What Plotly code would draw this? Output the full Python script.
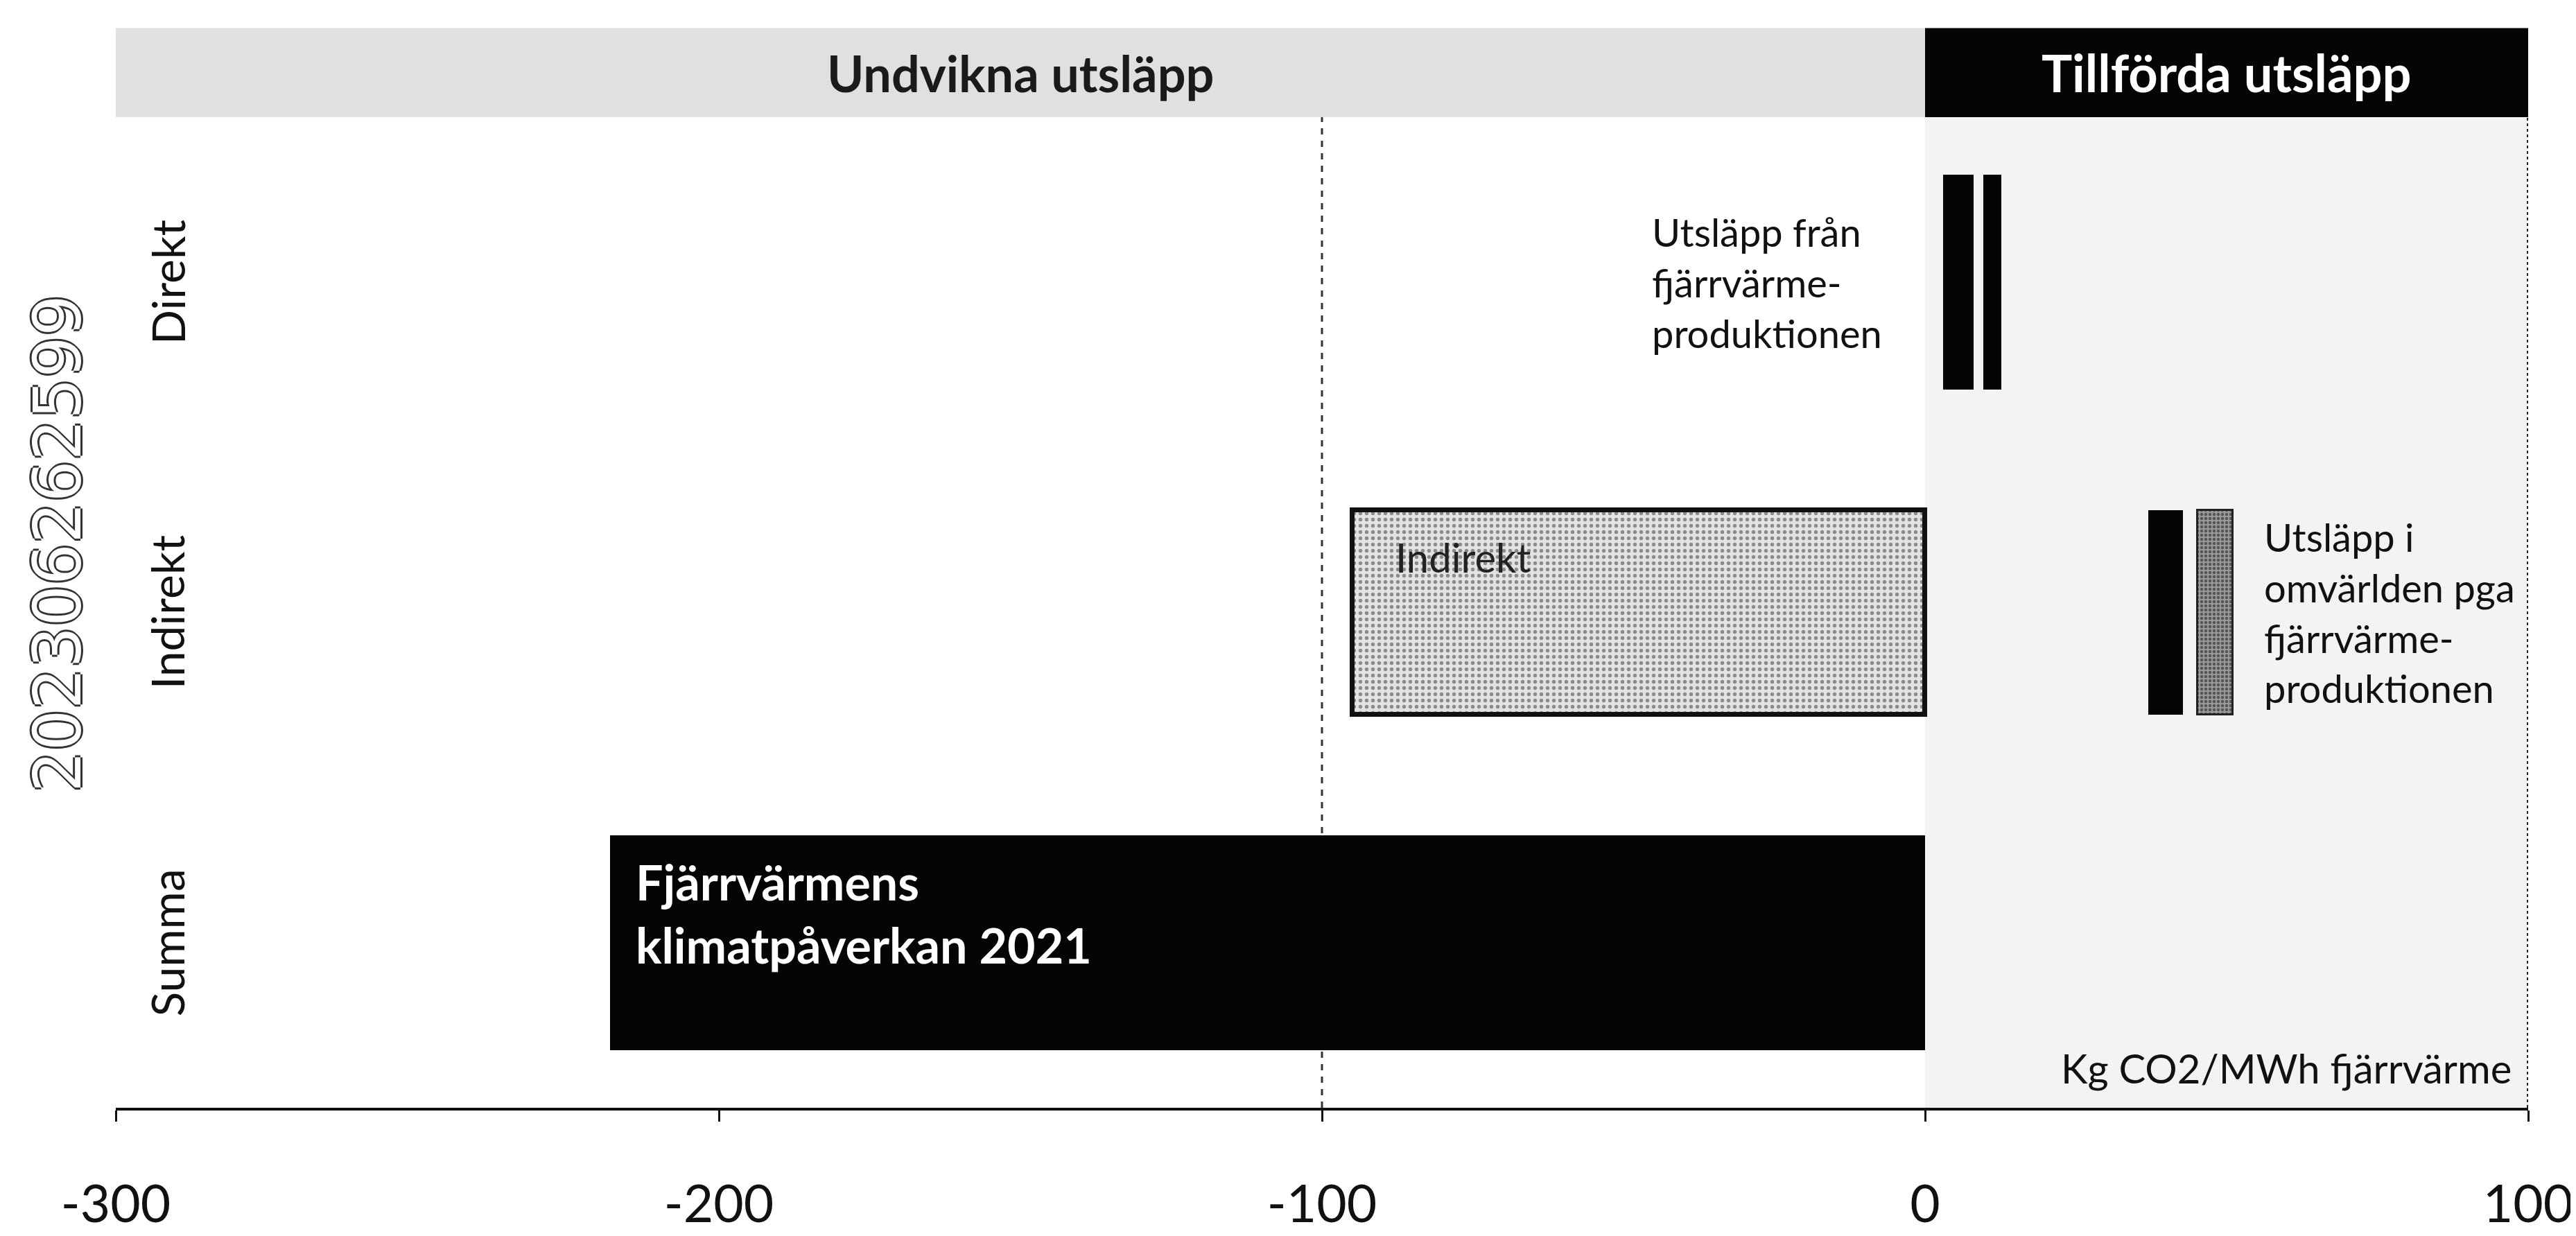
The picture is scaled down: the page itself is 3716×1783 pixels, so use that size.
import plotly.graph_objects as go

# ---- data ----
categories = ["Direkt", "Indirekt", "Summa"]

summa_value = [-218]                 # Fjärrvärmens klimatpåverkan 2021
undvikna_indirekt = [-95]            # grey box, Indirekt (avoided)

direkt_starts = [3.0, 9.7]           # Utsläpp från fjärrvärmeproduktionen
direkt_ends = [8.1, 12.7]

indirekt_starts = [37.0, 45.2]       # Utsläpp i omvärlden pga fjärrvärmeproduktionen
indirekt_ends = [42.8, 51.0]

x_ticks = [-300, -200, -100, 0, 100]
x_tick_labels = ["-300", "-200", "-100", "0", "100"]

header_undvikna = "Undvikna utsläpp"
header_tillforda = "Tillförda utsläpp"
watermark = "202306262599"

FONT = "Lato"
BAR_W = 0.65

fig = go.Figure()

# Summa bar
fig.add_trace(go.Bar(
    y=[categories[2]], x=summa_value, orientation="h", width=BAR_W,
    marker=dict(color="#050505", line=dict(width=0)), showlegend=False,
))

# Indirekt avoided (grey textured box)
fig.add_trace(go.Bar(
    y=[categories[1]], x=undvikna_indirekt, orientation="h", width=BAR_W * 0.95,
    marker=dict(color="#e2e2e2",
                line=dict(color="#111", width=7),
                pattern=dict(shape=".", fgcolor="#333", bgcolor="#e2e2e2",
                             size=9, solidity=0.28)),
    showlegend=False,
))

# Direkt segments (black)
fig.add_trace(go.Bar(
    y=[categories[0]] * len(direkt_starts),
    base=direkt_starts,
    x=[e - s for s, e in zip(direkt_starts, direkt_ends)],
    orientation="h", width=BAR_W,
    marker=dict(color="#050505", line=dict(width=0)), showlegend=False,
))

# Indirekt added: black + textured
fig.add_trace(go.Bar(
    y=[categories[1]], base=[indirekt_starts[0]],
    x=[indirekt_ends[0] - indirekt_starts[0]],
    orientation="h", width=BAR_W * 0.95,
    marker=dict(color="#050505", line=dict(width=0)), showlegend=False,
))
fig.add_trace(go.Bar(
    y=[categories[1]], base=[indirekt_starts[1]],
    x=[indirekt_ends[1] - indirekt_starts[1]],
    orientation="h", width=BAR_W * 0.95,
    marker=dict(color="#8a8a8a", line=dict(color="#222", width=3),
                pattern=dict(shape=".", fgcolor="#111", bgcolor="#9a9a9a",
                             size=6, solidity=0.45)),
    showlegend=False,
))

HEAD_TOP = 1.090
HEAD_MID = 1.045

shapes = [
    # speckled right region
    dict(type="rect", xref="x", yref="paper", x0=0, x1=100, y0=0, y1=1,
         fillcolor="#f3f3f3", line=dict(width=0), layer="below"),
    # header bands
    dict(type="rect", xref="x", yref="paper", x0=-300, x1=0, y0=1.0, y1=HEAD_TOP,
         fillcolor="#e0e0e0", line=dict(width=0), layer="below"),
    dict(type="rect", xref="x", yref="paper", x0=0, x1=100, y0=1.0, y1=HEAD_TOP,
         fillcolor="#050505", line=dict(width=0)),
    # dashed line at -100
    dict(type="line", xref="x", yref="paper", x0=-100, x1=-100, y0=0, y1=1,
         line=dict(color="#333", width=3, dash="dash"), layer="below"),
    # right border at 100
    dict(type="line", xref="x", yref="paper", x0=100, x1=100, y0=0, y1=1,
         line=dict(color="#222", width=4, dash="dot")),
]

annotations = [
    dict(text="<b>" + header_undvikna + "</b>", xref="x", yref="paper", x=-150, y=HEAD_MID,
         showarrow=False, font=dict(family=FONT, size=72, color="#1a1a1a"),
         xanchor="center", yanchor="middle"),
    dict(text="<b>" + header_tillforda + "</b>", xref="x", yref="paper", x=50, y=HEAD_MID,
         showarrow=False, font=dict(family=FONT, size=74, color="#ffffff"),
         xanchor="center", yanchor="middle"),
    dict(text="Utsläpp från<br>fjärrvärme-<br>produktionen", xref="x", yref="y",
         x=-45.5, y=categories[0], showarrow=False, align="left",
         xanchor="left", yanchor="middle",
         font=dict(family=FONT, size=56, color="#111")),
    dict(text="Utsläpp i<br>omvärlden pga<br>fjärrvärme-<br>produktionen", xref="x", yref="y",
         x=56, y=categories[1], showarrow=False, align="left",
         xanchor="left", yanchor="middle",
         font=dict(family=FONT, size=56, color="#111")),
    dict(text="Indirekt", xref="x", yref="y", x=-88, y=categories[1],
         yshift=80, showarrow=False, xanchor="left", yanchor="middle",
         font=dict(family=FONT, size=58, color="#222")),
    dict(text="<b>Fjärrvärmens<br>klimatpåverkan 2021</b>", xref="x", yref="y",
         x=-214, y=categories[2], yshift=42, showarrow=False, align="left",
         xanchor="left", yanchor="middle",
         font=dict(family=FONT, size=70, color="#ffffff")),
    dict(text="Kg CO2/MWh fjärrvärme", xref="x", yref="paper", x=97.5, y=0.04,
         showarrow=False, xanchor="right", yanchor="middle",
         font=dict(family=FONT, size=58, color="#111")),
    dict(text=watermark, xref="paper", yref="paper", x=-0.024, y=0.570,
         textangle=-90, showarrow=False, xanchor="center", yanchor="middle",
         font=dict(family="DejaVu Sans", size=94, color="#ffffff",
                   shadow="3px 0 0 #333, -3px 0 0 #333, 0 3px 0 #333, 0 -3px 0 #333")),
]

# category labels (rotated, just inside the left edge of the axis)
for cat in categories:
    annotations.append(dict(
        text=cat, xref="paper", yref="y", x=0.0212, y=cat,
        textangle=-90, showarrow=False, xanchor="center", yanchor="middle",
        font=dict(family=FONT, size=66, color="#111"),
    ))

fig.update_layout(
    width=3716, height=1783,
    margin=dict(l=159, r=66, t=161, b=147),
    paper_bgcolor="white", plot_bgcolor="white",
    barmode="overlay", bargap=0,
    shapes=shapes, annotations=annotations,
    showlegend=False,
    xaxis=dict(
        range=[-300, 100], tickvals=x_ticks, ticktext=x_tick_labels,
        showgrid=False, zeroline=False,
        showline=True, linecolor="#111", linewidth=4,
        ticks="outside", ticklen=16, tickwidth=3, tickcolor="#111",
        ticklabelstandoff=55,
        tickfont=dict(family=FONT, size=75, color="#111"),
    ),
    yaxis=dict(
        categoryorder="array", categoryarray=categories,
        range=[2.5, -0.5], showgrid=False, zeroline=False, showline=False,
        showticklabels=False, ticks="",
    ),
)

fig.write_html("out.html")
